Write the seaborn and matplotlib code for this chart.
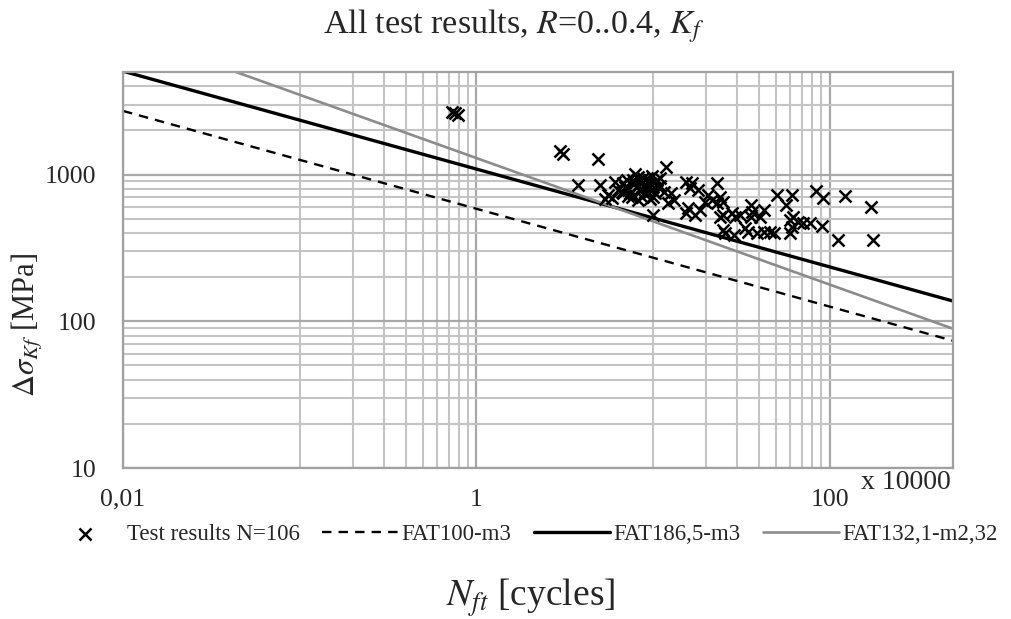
import numpy as np
import pandas as pd
import matplotlib
matplotlib.use("Agg")
import matplotlib.pyplot as plt
import matplotlib.ticker as mticker
import seaborn as sns

# test results: N_ft (x 10000 cycles) and stress range (MPa)
n_ft = [0.73, 0.76, 0.79, 2.99, 3.11, 4.91, 3.78, 5.04, 6.13, 5.60,
        5.90, 5.38, 6.80, 7.26, 7.76, 8.17, 6.72, 7.46, 7.96, 8.28,
        7.96, 9.07, 9.93, 10.3, 10.7, 9.43, 8.73, 6.98, 6.80, 7.65,
        10.07, 8.49, 8.83, 9.31, 9.68, 9.93, 9.07, 10.6, 11.0, 9.43,
        10.3, 9.68, 8.49, 11.5, 8.28, 7.18, 11.8, 10.07, 12.6, 13.1,
        12.2, 15.3, 16.3, 16.7, 15.9, 15.3, 17.4, 18.6, 23.2, 20.6,
        21.7, 19.8, 23.2, 24.1, 25.1, 24.1, 24.8, 25.7, 25.1, 29.3,
        28.2, 28.6, 35.7, 36.6, 35.7, 40.6, 33.4, 34.7, 39.1, 42.3,
        46.3, 48.2, 50.7, 61.7, 57.0, 60.1, 62.5, 66.7, 61.7, 60.1,
        71.2, 78.0, 83.3, 92.4, 123, 91.2, 112, 171, 177, 6.38,
        7.26, 11.0, 8.83, 17.9, 31.3, 42.3]
stress = [2670, 2640, 2550, 1450, 1390, 1280, 850, 850, 891, 726,
          693, 682, 877, 811, 918, 824, 761, 750, 1010, 963,
          877, 850, 979, 891, 824, 750, 704, 824, 750, 704,
          704, 918, 837, 947, 877, 786, 761, 918, 837, 811,
          750, 682, 773, 761, 671, 918, 1130, 531, 750, 671,
          640, 891, 811, 877, 592, 547, 531, 574, 877, 726,
          671, 650, 640, 704, 531, 514, 419, 400, 650, 514,
          547, 387, 620, 556, 514, 514, 433, 406, 400, 406,
          406, 400, 726, 726, 620, 491, 514, 475, 440, 400,
          468, 468, 773, 693, 715, 447, 358, 601, 358, 786,
          715, 947, 947, 786, 531, 574]

# design curves, end points at the axis limits
line_x = [0.01, 500]
fat100 = [2714, 73.7]
fat186 = [5062, 137.4]
fat132 = [9433, 89.0]

df = pd.DataFrame({"N": n_ft, "S": stress})

sns.set_style("white")
plt.rcParams["font.family"] = ["Liberation Serif", "DejaVu Serif"]
plt.rcParams["mathtext.fontset"] = "stix"

fig = plt.figure(figsize=(10.11, 6.19), dpi=100)
ax = fig.add_axes([0.1217, 0.2439, 0.8209, 0.6398])
ax.set_xscale("log")
ax.set_yscale("log")

sns.lineplot(x=line_x, y=fat100, ax=ax, color="black", linewidth=1.7,
             linestyle=(0, (4, 3)), label="FAT100-m3")
sns.lineplot(x=line_x, y=fat186, ax=ax, color="black", linewidth=2.4,
             label="FAT186,5-m3")
sns.lineplot(x=line_x, y=fat132, ax=ax, color="#8c8c8c", linewidth=1.9,
             label="FAT132,1-m2,32")
sns.scatterplot(data=df, x="N", y="S", ax=ax, marker="x", color="black",
                s=75, linewidth=1.8, label="Test results N=106", zorder=5)

ax.set_xlim(0.01, 500)
ax.set_ylim(10, 5000)

ax.set_xticks([0.01, 1, 100])
ax.set_xticklabels(["0,01", "1", "100"])
ax.set_xticks([0.1, 0.2, 0.3, 0.4, 0.5, 0.6, 0.7, 0.8, 0.9,
               10, 20, 30, 40, 50, 60, 70, 80, 90], minor=True)
ax.set_yticks([10, 100, 1000])
ax.set_yticklabels(["10", "100", "1000"])
ax.set_yticks([k * d for d in (10, 100) for k in range(2, 10)] +
              [2000, 3000, 4000], minor=True)
ax.xaxis.set_minor_formatter(mticker.NullFormatter())
ax.yaxis.set_minor_formatter(mticker.NullFormatter())
ax.tick_params(axis="both", which="major", length=7, width=1.5,
               color="#999999", labelsize=18.5)
ax.tick_params(axis="x", which="major", pad=8)
ax.tick_params(axis="y", which="major", pad=12)
ax.tick_params(axis="both", which="minor", length=0)
ax.grid(which="major", color="#a8a8a8", linewidth=1.6)
ax.grid(which="minor", color="#c4c4c4", linewidth=1.5)
ax.set_axisbelow(True)
for sp in ax.spines.values():
    sp.set_color("#a0a0a0")
    sp.set_linewidth(1.6)

ax.set_xlabel("")
ax.set_ylabel("")
fig.text(0.027, 0.475, r"$\Delta\sigma_{Kf}$ [MPa]", fontsize=22,
         rotation=90, ha="center", va="center")
fig.text(0.508, 0.957, r"All test results, $\mathit{R}$=0..0.4, $\mathit{K_f}$",
         fontsize=24.5, ha="center", va="center")
fig.text(0.525, 0.034, r"$N_{ft}$ [cycles]", fontsize=27,
         ha="center", va="center")
fig.text(0.896, 0.22, "x 10000", fontsize=20, ha="center", va="center")

handles, labels = ax.get_legend_handles_labels()
order = [3, 0, 1, 2]
ax.get_legend().remove()
fig.legend([handles[i] for i in order], [labels[i] for i in order],
           loc="center", bbox_to_anchor=(0.517, 0.136), ncol=4,
           frameon=False, fontsize=16.5, handlelength=3.3,
           columnspacing=1.0, handletextpad=0.15, borderaxespad=0)

plt.savefig("out.png", dpi=100)
